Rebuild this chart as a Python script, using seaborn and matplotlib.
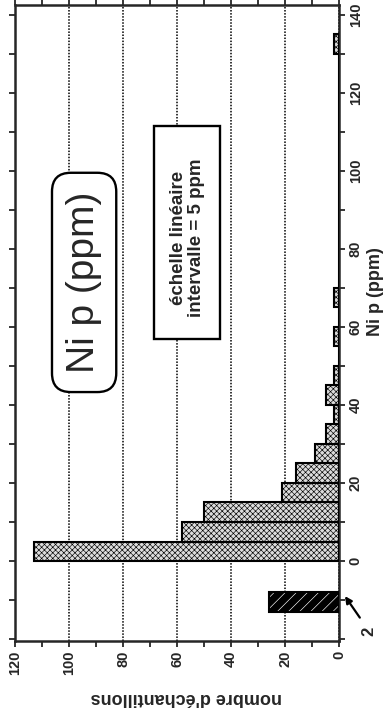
import matplotlib
matplotlib.use("Agg")
import matplotlib.pyplot as plt
from matplotlib.patches import FancyBboxPatch, Rectangle
import seaborn as sns
import pandas as pd

# ---- data ----
ni_bin_start = [0, 5, 10, 15, 20, 25, 30, 35, 40, 45, 55, 65, 130]   # ppm, class width 5
ni_counts    = [113, 58, 50, 21, 16, 9, 5, 2, 5, 2, 2, 2, 2]
bin_width = 5
below_dl_range = [-13, -8]      # "< 2" class (below detection limit)
below_dl_count = [26]
ni_ticks = [0, 20, 40, 60, 80, 100, 120, 140]
count_ticks = [0, 20, 40, 60, 80, 100, 120]

sns.set_style("ticks")
plt.rcParams['font.family'] = ['Liberation Sans', 'DejaVu Sans']
plt.rcParams['hatch.linewidth'] = 0.45

fig = plt.figure(figsize=(3.91, 7.09), dpi=100)
ax = fig.add_axes([15/391, 1 - 641/709, 324/391, 636/709])

df = pd.DataFrame({"ni": [s + bin_width / 2 for s in ni_bin_start], "n": ni_counts})
edges = list(range(0, 135 + bin_width, bin_width))
sns.histplot(data=df, y="ni", weights="n", bins=edges, ax=ax,
             facecolor="#dcdcdc", edgecolor="black", linewidth=1.5,
             hatch="xxxxxx", zorder=3)

df2 = pd.DataFrame({"ni": [sum(below_dl_range) / 2], "n": below_dl_count})
sns.histplot(data=df2, y="ni", weights="n", bins=below_dl_range, ax=ax,
             facecolor="black", edgecolor="white", linewidth=0,
             hatch="///", zorder=3)
sns.histplot(data=df2, y="ni", weights="n", bins=below_dl_range, ax=ax,
             facecolor="none", edgecolor="black", linewidth=1.5, zorder=4)

ax.set_xlim(120, 0)
ax.set_ylim(-20.5, 142.5)

# count axis (bottom in picture)
ax.set_xticks(count_ticks)
ax.set_xticks([10, 30, 50, 70, 90, 110], minor=True)
ax.set_xticklabels([str(t) for t in count_ticks], rotation=90, fontsize=10.5,
                   fontweight="bold")
ax.tick_params(axis="x", which="both", top=True, bottom=True, direction="out",
               length=4, width=1.3, pad=3)

# Ni axis (right in picture)
ax.yaxis.tick_right()
ax.yaxis.set_label_position("right")
ax.set_yticks(ni_ticks)
ax.set_yticks([-20, -10, 10, 30, 50, 70, 90, 110, 130], minor=True)
ax.set_yticklabels([str(t) for t in ni_ticks], rotation=90, va="center", fontsize=10.5,
                   fontweight="bold")
ax.tick_params(axis="y", which="both", left=True, right=True, direction="out",
               length=4, width=1.3, pad=3)

for sp in ax.spines.values():
    sp.set_visible(True)
    sp.set_linewidth(1.8)

ax.xaxis.grid(True, which="major", linestyle=(0, (1, 1.0)), color="black", linewidth=1.1)
ax.yaxis.grid(False)
ax.set_axisbelow(True)

ax.set_xlabel("nombre d'échantillons", rotation=180, fontsize=13, fontweight="bold")
ax.xaxis.set_label_coords(0.528, -0.075)
ax.set_ylabel("Ni p (ppm)", rotation=90, fontsize=13, fontweight="bold")
ax.yaxis.set_label_coords(1.086, 0.549)

# title box (rounded) and text
title_box = FancyBboxPatch((82.5, 43.3), 23.8, 56.2,
                           boxstyle="round,pad=0,rounding_size=7.0",
                           mutation_aspect=0.69, facecolor="white",
                           edgecolor="black", linewidth=1.7, zorder=5)
ax.add_patch(title_box)
ax.text(94.4, 71.4, "Ni p (ppm)", rotation=90, ha="center", va="center",
        fontsize=28, zorder=6)

# scale note box and text
note_box = Rectangle((44.2, 56.9), 24.2, 54.6, facecolor="white",
                     edgecolor="black", linewidth=1.7, zorder=5)
ax.add_patch(note_box)
ax.text(56.1, 82.8, "échelle linéaire\nintervalle = 5 ppm", rotation=90,
        ha="center", va="center", fontsize=13.5, fontweight="bold",
        linespacing=1.05, zorder=6)

ax.annotate("2", xy=(-2.2, -9), xytext=(-11.2, -18), rotation=90,
            ha="center", va="center", fontsize=12, fontweight="bold",
            annotation_clip=False,
            arrowprops=dict(arrowstyle="-|>", color="black", lw=1.6,
                            shrinkA=5, shrinkB=0, mutation_scale=10))

fig.savefig("out.png", dpi=100)
